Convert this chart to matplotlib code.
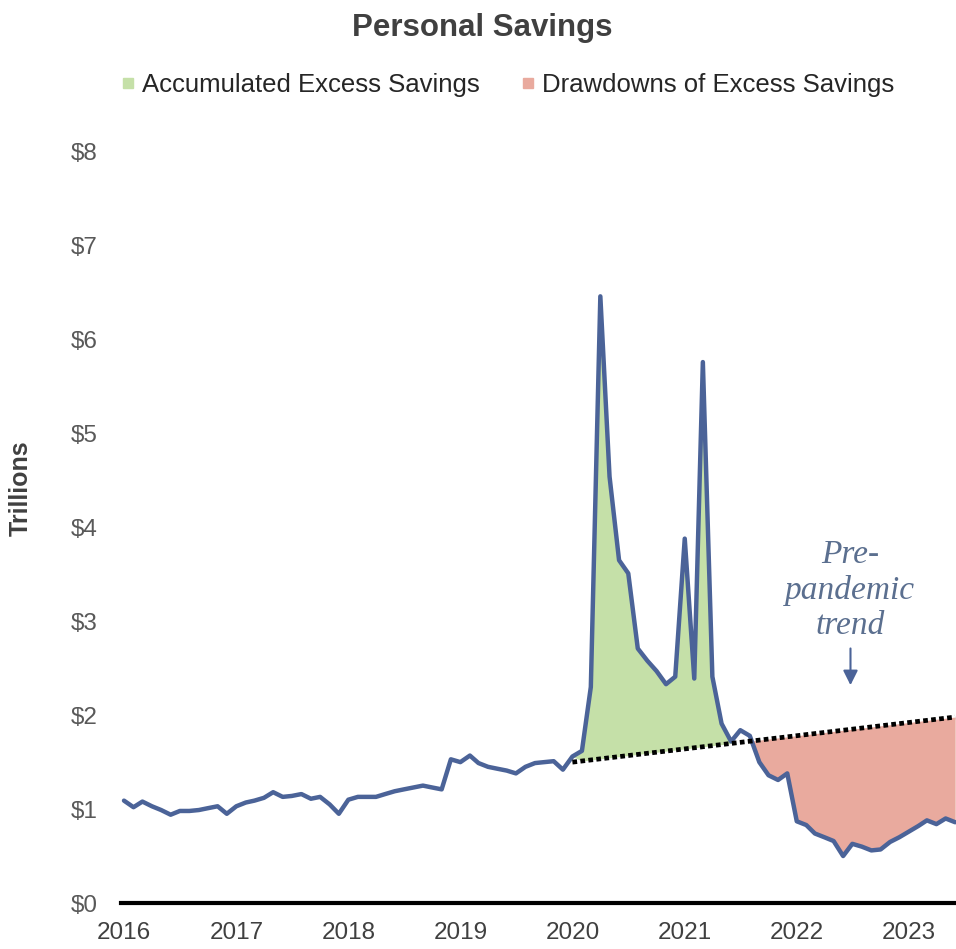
import numpy as np
import pandas as pd
import matplotlib
matplotlib.use('Agg')
import matplotlib.pyplot as plt
import matplotlib.dates as mdates
from matplotlib.lines import Line2D

plt.rcParams['font.family'] = ['Liberation Sans', 'DejaVu Sans']

# monthly personal savings, trillions of dollars (Jan 2016 - Jun 2023)
months = pd.date_range('2016-01-01', '2023-06-01', freq='MS')
savings = [1.09, 1.02, 1.08, 1.03, 0.99, 0.94, 0.98, 0.98, 0.99, 1.01, 1.03, 0.95,
           1.03, 1.07, 1.09, 1.12, 1.18, 1.13, 1.14, 1.16, 1.11, 1.13, 1.05, 0.95,
           1.10, 1.13, 1.13, 1.13, 1.16, 1.19, 1.21, 1.23, 1.25, 1.23, 1.21, 1.53,
           1.50, 1.57, 1.49, 1.45, 1.43, 1.41, 1.38, 1.45, 1.49, 1.50, 1.51, 1.42,
           1.56, 1.62, 2.30, 6.46, 4.54, 3.65, 3.51, 2.71, 2.58, 2.47, 2.33, 2.41,
           3.88, 2.39, 5.76, 2.41, 1.91, 1.72, 1.84, 1.78, 1.50, 1.36, 1.31, 1.38,
           0.87, 0.83, 0.74, 0.70, 0.66, 0.50, 0.63, 0.60, 0.56, 0.57, 0.65, 0.70,
           0.76, 0.82, 0.88, 0.84, 0.90, 0.86]

# pre-pandemic trend line: start and end points
trend_dates = pd.to_datetime(['2020-01-01', '2023-06-01'])
trend_values = [1.50, 1.98]

series_labels = ['Accumulated Excess Savings', 'Drawdowns of Excess Savings']
y_ticks = [0, 1, 2, 3, 4, 5, 6, 7, 8]

line_color = '#4b6398'
green = '#c5e0a8'
pink = '#e9aa9e'

s = pd.Series(savings, index=months)
trend_all = np.interp(mdates.date2num(months), mdates.date2num(trend_dates), trend_values)
after = months >= trend_dates[0]
xs = mdates.date2num(months[after])
sv = s.values[after]
tv = trend_all[after]

fig = plt.figure(figsize=(9.56, 9.49), dpi=100)
ax = fig.add_axes([121 / 956, 46 / 949, 835 / 956, 751.3 / 949])

green_mask = (sv >= tv) & (months[after] >= pd.Timestamp('2020-02-01')) & (months[after] <= pd.Timestamp('2021-06-01'))
pink_mask = (sv <= tv) & (months[after] >= pd.Timestamp('2021-08-01'))
ax.fill_between(xs, sv, tv, where=green_mask, color=green, interpolate=True, lw=0, zorder=1)
ax.fill_between(xs, sv, tv, where=pink_mask, color=pink, interpolate=True, lw=0, zorder=1)

ax.plot(mdates.date2num(months), savings, color=line_color, lw=3.2, zorder=3,
        solid_joinstyle='round', solid_capstyle='round')
ax.plot(mdates.date2num(trend_dates), trend_values, color='black', lw=3.4,
        linestyle=(0, (1.0, 0.7)), zorder=4)

ax.set_ylim(0, 8)
start = mdates.date2num(pd.Timestamp('2016-01-01'))
ax.set_xlim(start - 0.32 * 30.4, start + 89.17 * 30.4)
ax.set_yticks(y_ticks)
ax.set_yticklabels(['$%d' % v for v in y_ticks])
ax.xaxis.set_major_locator(mdates.YearLocator())
ax.xaxis.set_major_formatter(mdates.DateFormatter('%Y'))
ax.tick_params(axis='y', length=0, pad=17, labelsize=17.5, labelcolor='#595959')
ax.tick_params(axis='x', length=0, pad=14, labelsize=17.5, labelcolor='#404040')

for side in ['top', 'right', 'left']:
    ax.spines[side].set_visible(False)
ax.spines['bottom'].set_linewidth(3)
ax.spines['bottom'].set_color('black')
ax.spines['bottom'].set_zorder(5)

ax.set_ylabel('Trillions', fontsize=18, fontweight='bold', color='#404040')
ax.yaxis.set_label_coords((33 - 121) / 835, (903 - 488) / 751.3)

# annotation
note_x = mdates.date2num(pd.Timestamp('2022-06-25'))
ax.text(note_x, 3.33, 'Pre-\npandemic\ntrend', ha='center', va='center',
        family=['Liberation Serif', 'DejaVu Serif'], style='italic', fontsize=24,
        color='#5b6f8f', linespacing=1.2)
ax.annotate('', xy=(note_x, 2.29), xytext=(note_x, 2.74),
            arrowprops=dict(arrowstyle='-|>', lw=1.5, color=line_color, mutation_scale=22))

fig.text(482 / 956, 1 - 28 / 949, 'Personal Savings', ha='center', va='center',
         fontsize=22.5, fontweight='bold', color='#404040')

handles = [Line2D([], [], ls='', marker='s', markersize=7.5, color=c) for c in [green, pink]]
leg = fig.legend(handles, series_labels, loc='center', bbox_to_anchor=(508 / 956, 1 - 85 / 949),
                 ncol=2, frameon=False, fontsize=18.5, handlelength=0.5, handletextpad=0.3,
                 columnspacing=1.6, borderpad=0)
for t in leg.get_texts():
    t.set_color('#262626')

fig.savefig('out.png', dpi=100)
